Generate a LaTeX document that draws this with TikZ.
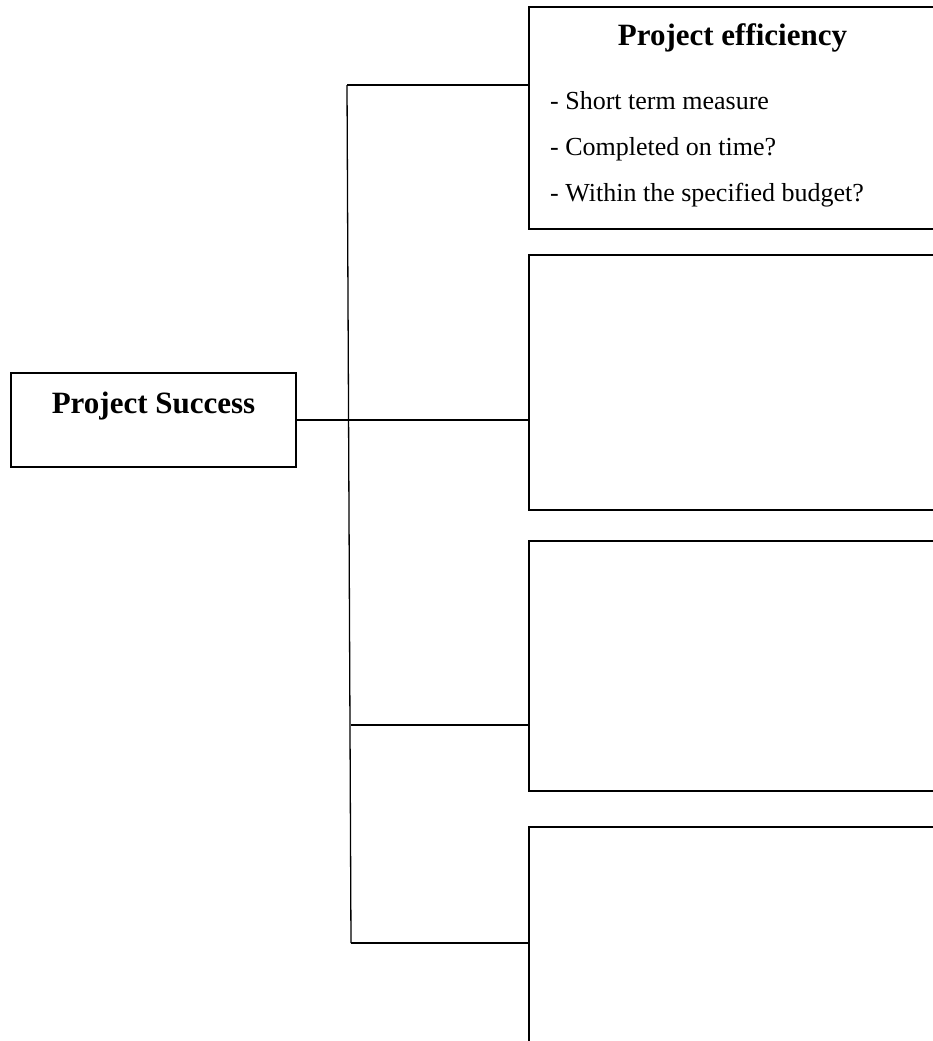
\documentclass[tikz,border=0pt]{standalone}
\usepackage{fontspec}
\setmainfont{Liberation Serif}
\begin{document}
\begin{tikzpicture}[x=1pt,y=-1pt,
  frame/.style={draw=black,line width=1.3pt,rectangle,inner sep=0pt,fill=none},
  link/.style={draw=black,line width=1.3pt},
  headtxt/.style={inner sep=0pt,anchor=base,font=\fontsize{31}{36}\selectfont\bfseries},
  itemtxt/.style={inner sep=0pt,anchor=base west,font=\fontsize{26}{30}\selectfont}]
\useasboundingbox (0,0) rectangle (933,1041);
% boxes
\node[frame,minimum width=285pt,minimum height=94pt] (ps) at (153.5,420) {};
\node[frame,minimum width=411pt,minimum height=222pt] (b1) at (734.5,118) {};
\node[frame,minimum width=411pt,minimum height=255pt] (b2) at (734.5,382.5) {};
\node[frame,minimum width=411pt,minimum height=250pt] (b3) at (734.5,666) {};
\node[frame,minimum width=411pt,minimum height=233pt] (b4) at (734.5,943.5) {};
% texts
\node[headtxt] (pst) at (153.5,413) {Project Success};
\node[headtxt] (b1h) at (732.5,46) {Project efficiency};
\node[itemtxt] (i1) at (550,109) {- Short term measure};
\node[itemtxt] (i2) at (550,155) {- Completed on time?};
\node[itemtxt] (i3) at (550,201) {- Within the specified budget?};
% connectors
\coordinate (vtop) at (347,85);
\coordinate (vbot) at (351,943);
\coordinate (j3) at (351,725);
\draw[link] (vtop) -- (vbot);
\draw[link] (vtop) -- (vtop -| b1.west);
\draw[link] (ps.east) -- (ps.east -| b2.west);
\draw[link] (j3) -- (j3 -| b3.west);
\draw[link] (vbot) -- (vbot -| b4.west);
\end{tikzpicture}
\end{document}
